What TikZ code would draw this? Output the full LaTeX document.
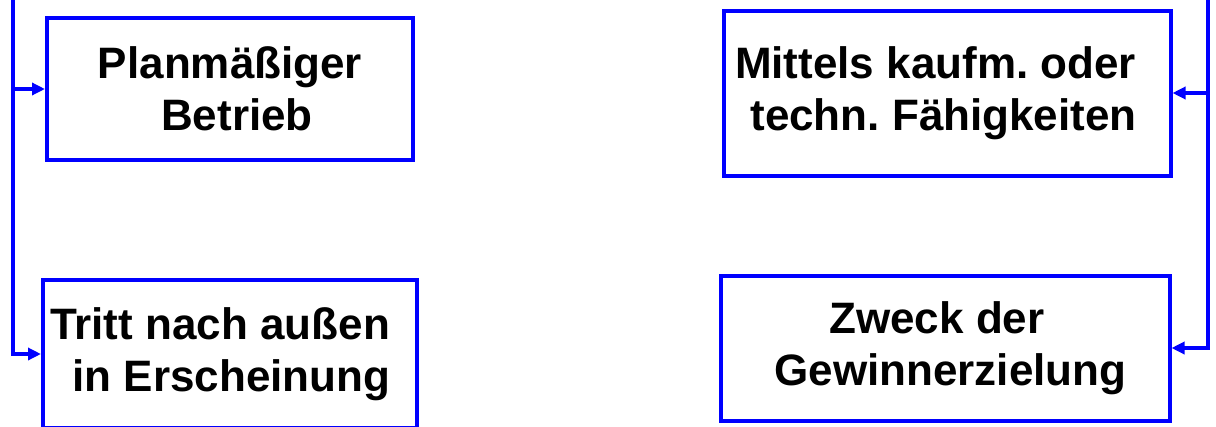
\documentclass[tikz,border=0pt]{standalone}
\usepackage{fontspec}
\setmainfont{Liberation Sans}
\usetikzlibrary{arrows.meta}

\begin{document}
\frenchspacing
\begin{tikzpicture}[x=1pt,y=-1pt,
		merkmal/.style={draw=blue,line width=4pt,rectangle,inner sep=0pt,align=center,
			font=\fontsize{44}{52}\selectfont\bfseries},
		pfeil/.style={draw=blue,line width=3.5pt,-{Triangle[length=13pt,width=12pt]}}]
	\useasboundingbox (0,0) rectangle (1216,426);
	\clip (0,0) rectangle (1216,426);
	% Kriterien links
	\node[merkmal,minimum width=366pt,minimum height=142pt] (betrieb) at (230,89)
		{Planmäßiger\\\hspace*{14pt}Betrieb};
	\node[merkmal,minimum width=374pt,minimum height=148pt] (aussen) at (230,354)
		{Tritt nach außen\hspace*{20pt}\\\hspace*{3pt}in Erscheinung};
	% Kriterien rechts
	\node[merkmal,minimum width=447pt,minimum height=165pt] (mittel) at (947,93)
		{Mittels kaufm. oder\hspace*{23pt}\\techn. Fähigkeiten\hspace*{7pt}};
	\node[merkmal,minimum width=449pt,minimum height=145pt] (zweck) at (945,348)
		{Zweck der\hspace*{16pt}\\\hspace*{11pt}Gewinnerzielung};
	% Verbindungslinien
	\coordinate (linksoben) at (13,-5);
	\coordinate (rechtsoben) at (1208,-5);
	\foreach \ziel in {betrieb,aussen} {
			\draw[pfeil] (linksoben) |- (\ziel.west);
		}
	\foreach \ziel in {mittel,zweck} {
			\draw[pfeil] (rechtsoben) |- (\ziel.east);
		}
\end{tikzpicture}
\end{document}
